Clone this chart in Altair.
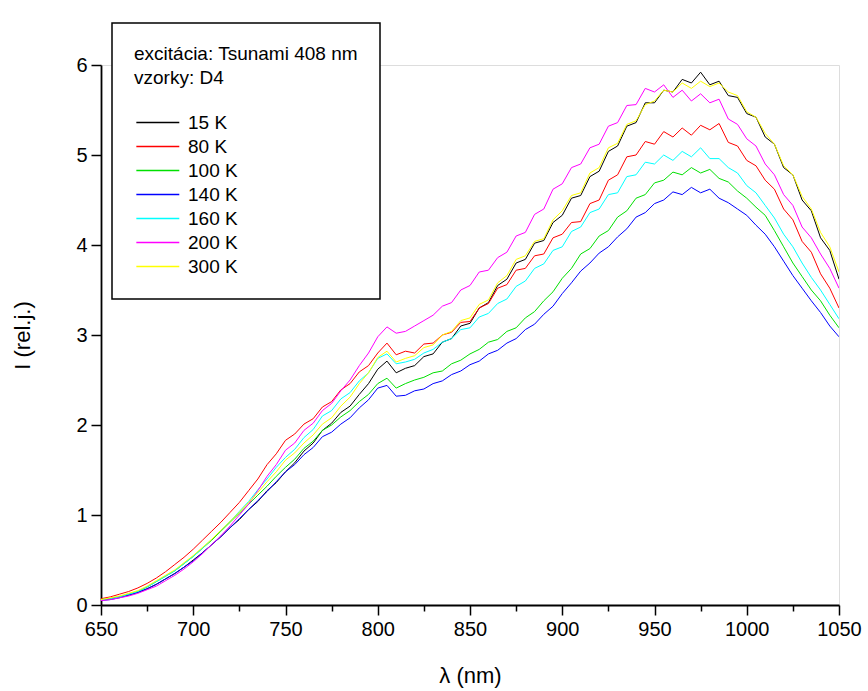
import altair as alt
import pandas as pd

wavelength = list(range(650, 1051, 5))

t15 = [.06, .07, .09, .11, .14, .18, .23, .29, .35, .42, .50, .58, .67, .76, .86, .95, 1.06, 1.15, 1.27, 1.36,
       1.48, 1.58, 1.71, 1.80, 1.94, 2.02, 2.14, 2.21, 2.34, 2.46, 2.62, 2.71, 2.58, 2.63, 2.66, 2.76, 2.79, 2.92,
       2.96, 3.10, 3.13, 3.30, 3.36, 3.55, 3.62, 3.80, 3.84, 4.02, 4.05, 4.25, 4.33, 4.52, 4.55, 4.76, 4.82, 5.04,
       5.10, 5.32, 5.36, 5.58, 5.58, 5.72, 5.70, 5.84, 5.80, 5.92, 5.78, 5.82, 5.66, 5.64, 5.46, 5.42, 5.20, 5.12,
       4.86, 4.78, 4.50, 4.38, 4.08, 3.94, 3.62]
t80 = [.07, .09, .12, .15, .19, .24, .30, .37, .45, .53, .62, .72, .82, .92, 1.03, 1.14, 1.27, 1.40, 1.56, 1.68,
       1.83, 1.90, 2.01, 2.07, 2.20, 2.26, 2.39, 2.46, 2.59, 2.66, 2.80, 2.91, 2.78, 2.82, 2.80, 2.90, 2.91, 3.00,
       3.03, 3.14, 3.15, 3.30, 3.35, 3.52, 3.56, 3.72, 3.74, 3.88, 3.90, 4.08, 4.12, 4.25, 4.26, 4.46, 4.50, 4.72,
       4.78, 4.98, 5.00, 5.15, 5.12, 5.26, 5.20, 5.30, 5.22, 5.33, 5.28, 5.35, 5.14, 5.10, 4.94, 4.88, 4.72, 4.62,
       4.40, 4.28, 4.04, 3.92, 3.68, 3.52, 3.30]
t100 = [.06, .07, .09, .12, .15, .20, .26, .32, .38, .46, .54, .63, .72, .82, .92, 1.02, 1.12, 1.22, 1.32, 1.43,
        1.53, 1.62, 1.74, 1.82, 1.94, 2.00, 2.09, 2.16, 2.26, 2.34, 2.46, 2.52, 2.41, 2.46, 2.50, 2.53, 2.58, 2.60,
        2.68, 2.72, 2.79, 2.84, 2.92, 2.95, 3.04, 3.08, 3.19, 3.26, 3.38, 3.48, 3.63, 3.74, 3.90, 3.96, 4.10, 4.16,
        4.31, 4.38, 4.52, 4.56, 4.69, 4.72, 4.81, 4.78, 4.86, 4.80, 4.84, 4.74, 4.70, 4.60, 4.52, 4.42, 4.33, 4.16,
        3.98, 3.80, 3.65, 3.50, 3.38, 3.22, 3.08]
t140 = [.05, .06, .08, .11, .14, .18, .23, .29, .35, .42, .49, .58, .67, .76, .86, .96, 1.06, 1.16, 1.26, 1.37,
        1.48, 1.56, 1.67, 1.75, 1.87, 1.92, 2.01, 2.08, 2.19, 2.28, 2.41, 2.44, 2.32, 2.33, 2.38, 2.40, 2.46, 2.49,
        2.56, 2.60, 2.67, 2.71, 2.79, 2.83, 2.91, 2.96, 3.06, 3.12, 3.23, 3.32, 3.46, 3.58, 3.71, 3.80, 3.91, 3.98,
        4.09, 4.18, 4.31, 4.36, 4.46, 4.50, 4.59, 4.56, 4.64, 4.58, 4.62, 4.52, 4.47, 4.40, 4.33, 4.22, 4.12, 3.98,
        3.82, 3.66, 3.52, 3.38, 3.25, 3.10, 2.98]
t160 = [.06, .07, .09, .12, .15, .20, .26, .32, .38, .46, .54, .63, .73, .83, .93, 1.04, 1.15, 1.28, 1.40, 1.53,
        1.64, 1.73, 1.86, 1.95, 2.10, 2.16, 2.29, 2.36, 2.49, 2.58, 2.74, 2.79, 2.68, 2.70, 2.73, 2.80, 2.84, 2.92,
        2.96, 3.06, 3.08, 3.20, 3.24, 3.35, 3.40, 3.54, 3.60, 3.74, 3.79, 3.94, 3.98, 4.15, 4.20, 4.36, 4.40, 4.56,
        4.58, 4.76, 4.78, 4.92, 4.90, 5.00, 4.94, 5.04, 4.98, 5.08, 4.96, 4.96, 4.86, 4.80, 4.66, 4.58, 4.44, 4.30,
        4.12, 3.98, 3.80, 3.64, 3.50, 3.34, 3.18]
t200 = [.05, .06, .08, .10, .13, .17, .21, .27, .33, .40, .48, .57, .67, .77, .88, 1.00, 1.12, 1.27, 1.43, 1.56,
        1.72, 1.80, 1.94, 2.02, 2.16, 2.24, 2.38, 2.50, 2.66, 2.80, 2.98, 3.09, 3.02, 3.04, 3.10, 3.16, 3.22, 3.32,
        3.36, 3.50, 3.55, 3.70, 3.72, 3.86, 3.92, 4.10, 4.14, 4.34, 4.40, 4.62, 4.68, 4.86, 4.90, 5.08, 5.12, 5.32,
        5.36, 5.55, 5.56, 5.74, 5.70, 5.78, 5.64, 5.72, 5.60, 5.68, 5.58, 5.62, 5.40, 5.34, 5.18, 5.10, 4.90, 4.78,
        4.56, 4.44, 4.20, 4.08, 3.90, 3.74, 3.52]
t300 = [.06, .08, .10, .13, .16, .21, .27, .33, .39, .47, .55, .64, .73, .83, .93, 1.03, 1.14, 1.25, 1.37, 1.48,
        1.61, 1.69, 1.80, 1.89, 2.01, 2.08, 2.21, 2.31, 2.46, 2.58, 2.75, 2.82, 2.70, 2.74, 2.77, 2.86, 2.89, 3.00,
        3.04, 3.16, 3.19, 3.34, 3.39, 3.58, 3.66, 3.84, 3.88, 4.04, 4.07, 4.28, 4.38, 4.55, 4.58, 4.80, 4.86, 5.08,
        5.13, 5.34, 5.38, 5.56, 5.60, 5.72, 5.70, 5.80, 5.74, 5.82, 5.76, 5.80, 5.70, 5.66, 5.48, 5.42, 5.24, 5.12,
        4.88, 4.78, 4.54, 4.40, 4.14, 3.98, 3.70]

names = ["15 K", "80 K", "100 K", "140 K", "160 K", "200 K", "300 K"]
colors = ["#000000", "#ff0000", "#00e000", "#0000ff", "#00ffff", "#ff00ff", "#ffff00"]
series = [t15, t80, t100, t140, t160, t200, t300]

x_ticks = list(range(650, 1051, 25))
y_ticks = [0, 0.5, 1, 1.5, 2, 2.5, 3, 3.5, 4, 4.5, 5, 5.5, 6]

rows = []
for name, vals in zip(names, series):
    for w, v in zip(wavelength, vals):
        rows.append({"nm": w, "I": v, "T": name})
df = pd.DataFrame(rows)

FONT = "Liberation Sans"
xscale = alt.Scale(domain=[650, 1050], nice=False, zero=False)
yscale = alt.Scale(domain=[0, 6], nice=False, zero=True)

chart = alt.Chart(df).mark_line(strokeWidth=1, clip=True).encode(
    x=alt.X("nm:Q", scale=xscale,
            axis=alt.Axis(values=x_ticks, title="λ (nm)", orient="bottom", grid=False,
                          labelExpr="datum.value % 50 === 0 ? datum.label : ''",
                          tickSize={"expr": "datum.value % 50 === 0 ? 10 : 6"},
                          tickWidth=1.5, tickColor="black", domainColor="black",
                          domainWidth=1.8, labelFont=FONT, labelFontSize=20, labelColor="black",
                          labelPadding=4, labelFlush=False, labelOverlap=False,
                          titleFont=FONT, titleFontSize=22, titleFontWeight="normal",
                          titleColor="black", titlePadding=26, format="d")),
    y=alt.Y("I:Q", scale=yscale,
            axis=alt.Axis(values=y_ticks, title="I (rel.j.)", orient="left", grid=False,
                          labelExpr="datum.value % 1 === 0 ? datum.label : ''",
                          tickSize={"expr": "datum.value % 1 === 0 ? 10 : 6"},
                          tickWidth=1.5, tickColor="black", domainColor="black",
                          domainWidth=1.8, labelFont=FONT, labelFontSize=20, labelColor="black",
                          labelPadding=4, labelFlush=False, labelOverlap=False,
                          titleFont=FONT, titleFontSize=22, titleFontWeight="normal",
                          titleColor="black", titlePadding=41, format="d")),
    color=alt.Color("T:N", scale=alt.Scale(domain=names, range=colors),
                    legend=alt.Legend(title=["excitácia: Tsunami 408 nm", "vzorky: D4"],
                                      orient="none", legendX=11, legendY=-42,
                                      fillColor="white", titleLimit=500, labelLimit=300,
                                      padding=22, symbolType="M-1,0H5", symbolSize=205,
                                      symbolStrokeWidth=1.6, labelOffset=35,
                                      labelFont=FONT, labelFontSize=19, labelColor="black",
                                      titleFont=FONT, titleFontSize=19, titleFontWeight="normal",
                                      titleColor="black", titleLineHeight=24, titlePadding=25,
                                      rowPadding=4)),
).properties(
    width=738, height=540,
    autosize=alt.AutoSizeParams(type="none"),
    padding={"left": 101, "top": 65, "right": 29, "bottom": 86},
).configure_view(stroke=None).configure(background="white").configure_legend(
    strokeColor="black", strokeWidth=1.5
)

chart.save("out.html", embed_options={"renderer": "svg", "actions": False})
